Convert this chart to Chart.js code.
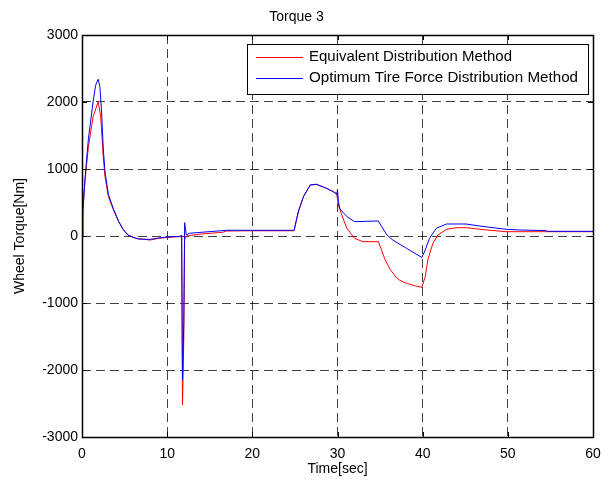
<!DOCTYPE html>
<html>
<head>
<meta charset="utf-8">
<script src="https://cdn.jsdelivr.net/npm/chart.js@4.4.0/dist/chart.umd.min.js"></script>
<style>
  html, body { margin: 0; padding: 0; background: #fff; }
  #wrap { width: 615px; height: 482px; }
</style>
</head>
<body>
<div id="wrap"><canvas id="torqueChart" width="615" height="482"></canvas></div>
<script>
// values
const titleText = 'Torque 3';
const xLabel = 'Time[sec]';
const yLabel = 'Wheel Torque[Nm]';
const xTicks = [0, 10, 20, 30, 40, 50, 60];
const yTicks = [-3000, -2000, -1000, 0, 1000, 2000, 3000];

const eqLabel = 'Equivalent Distribution Method';
const eqTime = [0, 0.1, 0.35, 0.75, 1.3, 1.9, 2.2, 2.3, 2.5, 2.7, 3.1, 3.7, 4.3, 4.85, 5.4, 6.0, 6.6, 8.0, 9.0, 10, 11.5, 11.7,
  11.8, 11.95, 12.05, 12.3, 14, 16.5, 17, 20, 24.9, 25.4, 26.0, 26.8, 27.5, 28.7, 29.5, 29.9, 30.1, 30.5, 31.1, 32.0, 33.0, 34.8,
  35.0, 35.6, 36.2, 36.9, 37.3, 38.1, 39.0, 39.9, 40.3, 40.6, 41.2, 41.8, 42.8, 44.0, 45.1, 47.5, 49.8, 55, 60];
const eqTorque = [0, 390, 830, 1330, 1780, 2004, 1780, 1580, 1180, 885, 587, 388, 214, 90, 15, -20, -40, -60, -35, -20, -10, 10,
  -2520, -1550, -50, 0, 30, 55, 75, 78, 78, 363, 587, 761, 772, 712, 661, 637, 463, 313, 115, -35, -85, -85,
  -150, -360, -500, -620, -660, -706, -740, -766, -607, -358, -110, 15, 100, 124, 124, 90, 64, 64, 64];

const optLabel = 'Optimum Tire Force Distribution Method';
const optTime = [0, 0.1, 0.35, 0.75, 1.3, 1.6, 1.9, 2.1, 2.3, 2.5, 2.7, 3.1, 3.7, 4.3, 4.85, 5.4, 6.0, 6.6, 8.0, 9.0, 10, 11.5, 11.7,
  11.8, 11.95, 12.05, 12.25, 12.6, 13.5, 14.5, 17, 20, 24.9, 25.4, 26.0, 26.8, 27.5, 28.7, 29.5, 29.9, 30.0, 30.1, 30.3, 31.1, 32.0,
  34.8, 35.2, 35.8, 36.5, 38.1, 39.9, 40.3, 40.8, 41.6, 42.8, 45.1, 46.7, 49.8, 51.4, 54.5, 54.6, 60];
const optTorque = [0, 350, 850, 1450, 2000, 2250, 2340, 2230, 1850, 1300, 960, 620, 400, 220, 95, 15, -20, -45, -50, -30, -15, -5, 10,
  -2150, -1300, 200, 15, 40, 50, 60, 85, 85, 85, 363, 587, 761, 772, 712, 661, 620, 690, 520, 400, 290, 214,
  224, 139, 15, -60, -184, -320, -209, -35, 115, 179, 179, 149, 100, 90, 80, 70, 70];

function toPoints(xs, ys) {
  return xs.map((x, i) => ({ x: x, y: ys[i] }));
}

const fontFamily = '"Liberation Sans", Arial, sans-serif';

// box, inner tick marks and boxed legend, matlab style
const frameAndLegend = {
  id: 'frameAndLegend',
  afterDatasetsDraw(chart) {
    const ctx = chart.ctx;
    const a = chart.chartArea;
    const xs = chart.scales.x, ys = chart.scales.y;
    ctx.save();
    ctx.strokeStyle = '#000';
    ctx.lineWidth = 1;
    ctx.setLineDash([]);
    ctx.beginPath();
    xTicks.forEach(t => {
      const px = Math.round(xs.getPixelForValue(t)) + 0.5;
      ctx.moveTo(px, a.bottom); ctx.lineTo(px, a.bottom - 5);
      ctx.moveTo(px, a.top); ctx.lineTo(px, a.top + 5);
    });
    yTicks.forEach(t => {
      const py = Math.round(ys.getPixelForValue(t)) + 0.5;
      ctx.moveTo(a.left, py); ctx.lineTo(a.left + 5, py);
      ctx.moveTo(a.right, py); ctx.lineTo(a.right - 5, py);
    });
    ctx.stroke();
    ctx.lineWidth = 1.5;
    ctx.strokeRect(Math.round(a.left) + 0.5, Math.round(a.top) + 0.5, Math.round(a.right - a.left), Math.round(a.bottom - a.top));

    // legend
    const lx = 247.5, ly = 44.5, lw = 341, lh = 50;
    ctx.fillStyle = '#fff';
    ctx.fillRect(lx, ly, lw, lh);
    ctx.lineWidth = 1;
    ctx.strokeRect(lx, ly, lw, lh);
    // label, colour, row y, right end of text in the reference
    const rows = [[eqLabel, 'rgb(255,0,0)', 57.5, 512], [optLabel, 'rgb(0,0,255)', 78.5, 578]];
    ctx.font = '14px ' + fontFamily;
    ctx.textBaseline = 'middle';
    rows.forEach(r => {
      ctx.strokeStyle = r[1];
      ctx.beginPath();
      ctx.moveTo(256, r[2]); ctx.lineTo(303, r[2]);
      ctx.stroke();
      ctx.fillStyle = '#000';
      const w = ctx.measureText(r[0]).width;
      const sx = (r[3] - 309) / w;
      ctx.save();
      ctx.translate(309, r[2]);
      ctx.scale(sx, 1);
      ctx.fillText(r[0], 0, 0);
      ctx.restore();
    });
    ctx.restore();
  }
};

const ctx = document.getElementById('torqueChart').getContext('2d');
const torqueChart = new Chart(ctx, {
  type: 'line',
  data: {
    datasets: [
      {
        label: eqLabel,
        data: toPoints(eqTime, eqTorque),
        borderColor: 'rgb(255,0,0)',
        borderWidth: 1,
        pointRadius: 0,
        fill: false,
        tension: 0,
        order: 2
      },
      {
        label: optLabel,
        data: toPoints(optTime, optTorque),
        borderColor: 'rgb(0,0,255)',
        borderWidth: 1,
        pointRadius: 0,
        fill: false,
        tension: 0,
        order: 1
      }
    ]
  },
  options: {
    responsive: false,
    animation: false,
    layout: { padding: { left: 0, right: 22, top: 0, bottom: 0 } },
    plugins: {
      legend: { display: false },
      tooltip: { enabled: false },
      title: {
        display: true,
        text: titleText,
        color: '#000',
        font: { family: fontFamily, size: 14, weight: 'normal' },
        padding: { top: 9, bottom: 9.2 }
      }
    },
    scales: {
      x: {
        type: 'linear',
        min: 0,
        max: 60,
        afterFit: s => { s.height = 45; },
        afterBuildTicks: s => { s.ticks = xTicks.map(v => ({ value: v })); },
        border: { display: false, dash: [9, 5] },
        grid: { color: 'rgba(0,0,0,0.75)', drawTicks: false, lineWidth: 1 },
        ticks: { color: '#000', padding: 9, maxRotation: 0, callback: v => String(v),
          font: { family: fontFamily, size: 14 } },
        title: { display: true, text: xLabel, color: '#000', padding: { top: 4, bottom: 4 },
          font: { family: fontFamily, size: 14 } }
      },
      y: {
        min: -3000,
        max: 3000,
        afterFit: s => { s.width = 82; },
        afterBuildTicks: s => { s.ticks = yTicks.map(v => ({ value: v })); },
        border: { display: false, dash: [9, 5] },
        grid: { color: 'rgba(0,0,0,0.75)', drawTicks: false, lineWidth: 1 },
        ticks: { color: '#000', padding: 4, callback: v => String(v),
          font: { family: fontFamily, size: 14 } },
        title: { display: true, text: yLabel, color: '#000', padding: { top: 12, bottom: 4 },
          font: { family: fontFamily, size: 14 } }
      }
    }
  },
  plugins: [frameAndLegend]
});
</script>
</body>
</html>
